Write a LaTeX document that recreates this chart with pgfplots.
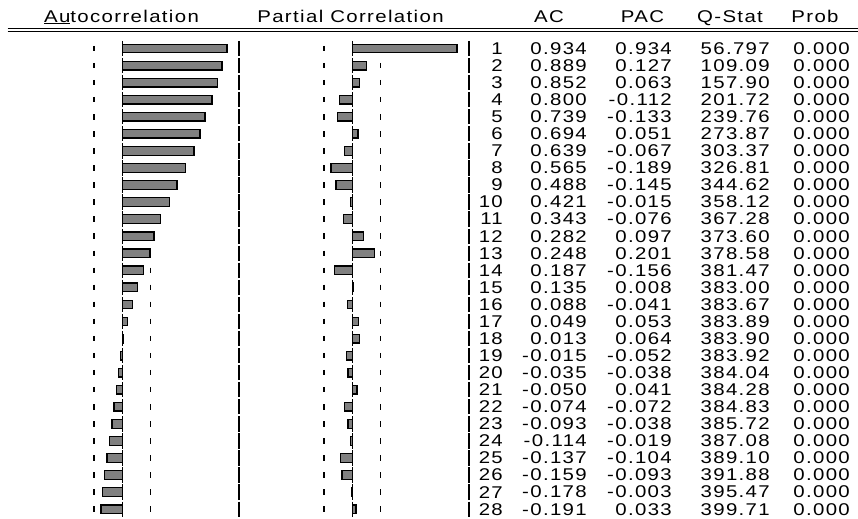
\documentclass[border=0pt]{standalone}
\usepackage{pgfplots}
\pgfplotsset{compat=1.18}
\usepackage{pgfplotstable}
\usepackage{fontspec}
\setmainfont{Liberation Sans}[FakeStretch=1.2, LetterSpace=8]
\definecolor{bargray}{RGB}{128,128,128}

\pgfplotstableread{
lag ac pac q prob
1 0.934 0.934 56.797 0.000
2 0.889 0.127 109.09 0.000
3 0.852 0.063 157.90 0.000
4 0.800 -0.112 201.72 0.000
5 0.739 -0.133 239.76 0.000
6 0.694 0.051 273.87 0.000
7 0.639 -0.067 303.37 0.000
8 0.565 -0.189 326.81 0.000
9 0.488 -0.145 344.62 0.000
10 0.421 -0.015 358.12 0.000
11 0.343 -0.076 367.28 0.000
12 0.282 0.097 373.60 0.000
13 0.248 0.201 378.58 0.000
14 0.187 -0.156 381.47 0.000
15 0.135 0.008 383.00 0.000
16 0.088 -0.041 383.67 0.000
17 0.049 0.053 383.89 0.000
18 0.013 0.064 383.90 0.000
19 -0.015 -0.052 383.92 0.000
20 -0.035 -0.038 384.04 0.000
21 -0.050 0.041 384.28 0.000
22 -0.074 -0.072 384.83 0.000
23 -0.093 -0.038 385.72 0.000
24 -0.114 -0.019 387.08 0.000
25 -0.137 -0.104 389.10 0.000
26 -0.159 -0.093 391.88 0.000
27 -0.178 -0.003 395.47 0.000
28 -0.191 0.033 399.71 0.000
}\corr

\pgfplotsset{
  panel/.style={scale only axis, hide axis, y dir=reverse, ymin=0.5, ymax=28.5,
    height=477.7bp, clip=false, anchor=north west},
  rowline/.style={black, line width=#1, dash pattern=on 15.3bp off 1.76bp, dash phase=16.18bp},
  band/.style={black, line width=1.8bp, dash pattern=on 5.5bp off 11.56bp, dash phase=11.28bp},
  bars/.style={xbar, bar width=8.6bp, bar shift=0pt, fill=bargray, draw=black, line width=1.3bp},
  col/.style={draw=none, mark=none, nodes near coords, point meta=explicit symbolic,
    every node near coord/.append style={anchor=east, inner sep=0pt,
      font=\fontsize{17bp}{20bp}\selectfont}},
}

\begin{document}
\fontsize{17bp}{20bp}\selectfont
\begin{tikzpicture}
\useasboundingbox (0,0) rectangle (858bp,-519bp);

% header
\node[anchor=base, inner sep=0pt] at (121.5bp,-22bp) {\underline{Au}tocorrelation};
\node[anchor=base, inner sep=0pt] at (350.5bp,-22bp) {Partial Correlation};
\node[anchor=base, inner sep=0pt] at (549bp,-22bp) {AC};
\node[anchor=base, inner sep=0pt] at (642.5bp,-22bp) {PAC};
\node[anchor=base, inner sep=0pt] at (730bp,-22bp) {Q-Stat};
\node[anchor=base, inner sep=0pt] at (815bp,-22bp) {Prob};
\draw[line width=1.1bp] (7.5bp,-28.3bp) -- (858bp,-28.3bp);
\draw[line width=1.1bp] (7.5bp,-31.7bp) -- (858bp,-31.7bp);

% Autocorrelation panel
\begin{axis}[panel, at={(10.3bp,-40bp)}, width=224bp, xmin=-1, xmax=1]
  \addplot[rowline=1bp] coordinates {(0,0.5) (0,28.5)};
  \addplot[band] coordinates {(-0.252,0.5) (-0.252,28.5)};
  \addplot[band] coordinates {(0.252,0.5) (0.252,28.5)};
  \addplot[bars] table[x=ac, y=lag]{\corr};
\end{axis}

% Partial correlation panel
\begin{axis}[panel, at={(240.3bp,-40bp)}, width=224bp, xmin=-1, xmax=1]
  \addplot[rowline=1bp] coordinates {(0,0.5) (0,28.5)};
  \addplot[band] coordinates {(-0.252,0.5) (-0.252,28.5)};
  \addplot[band] coordinates {(0.252,0.5) (0.252,28.5)};
  \addplot[bars] table[x=pac, y=lag]{\corr};
\end{axis}

% separators and table columns
\begin{axis}[panel, at={(0bp,-40bp)}, width=858bp, xmin=0, xmax=858]
  \addplot[rowline=2bp] coordinates {(238.7,0.5) (238.7,28.5)};
  \addplot[rowline=2bp] coordinates {(469.3,0.5) (469.3,28.5)};
  \addplot[col] table[x expr=503, y=lag, meta=lag]{\corr};
  \addplot[col] table[x expr=587, y=lag, meta=ac]{\corr};
  \addplot[col] table[x expr=672, y=lag, meta=pac]{\corr};
  \addplot[col] table[x expr=770, y=lag, meta=q]{\corr};
  \addplot[col] table[x expr=850, y=lag, meta=prob]{\corr};
\end{axis}
\end{tikzpicture}
\end{document}
